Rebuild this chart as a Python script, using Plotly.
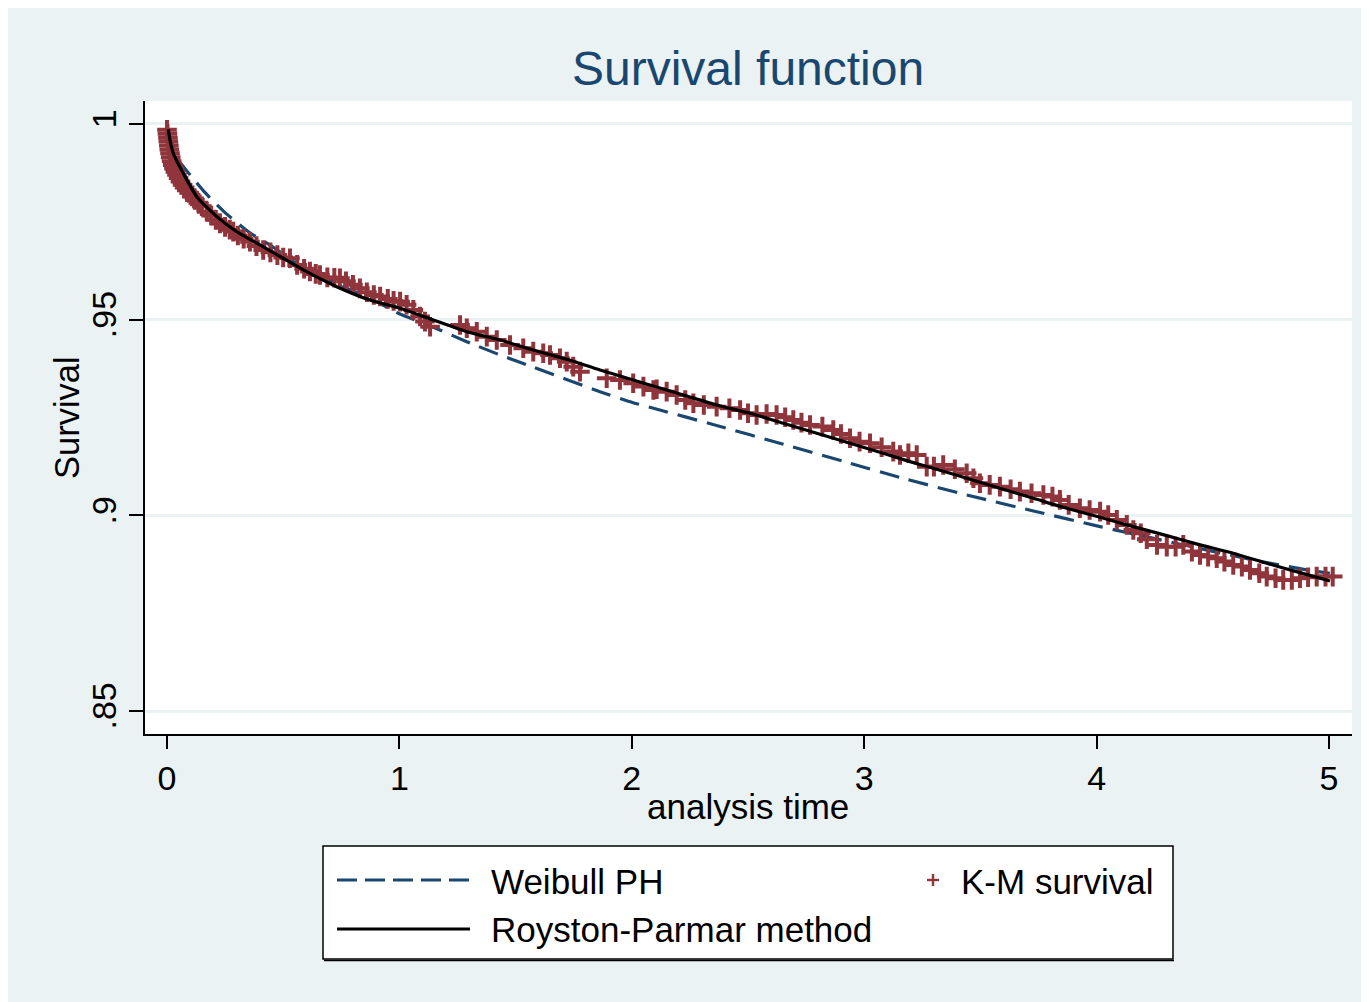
import plotly.graph_objects as go

# ---------------- data ----------------
weibull_t = [0.005, 0.049, 0.10, 0.156, 0.245, 0.350, 0.450, 0.544, 0.63, 0.888, 0.995,
             1.146, 1.290, 1.433, 1.576, 1.863, 2.006, 2.078, 2.365, 2.652, 2.939, 3.154,
             3.441, 3.728, 4.015, 4.144, 4.330, 4.660, 4.904, 5.004]
weibull_s = [0.9982, 0.9908, 0.98697, 0.98296, 0.97759, 0.97248, 0.96883, 0.96482, 0.96186,
             0.95503, 0.95163, 0.94806, 0.94438, 0.94098, 0.93784, 0.93160, 0.92879, 0.92760,
             0.92297, 0.91816, 0.91331, 0.90968, 0.90521, 0.90112, 0.89711, 0.89543, 0.89300,
             0.88878, 0.88605, 0.88520]

rp_t = [0.0056, 0.0125, 0.027, 0.040, 0.070, 0.128, 0.214, 0.300, 0.400, 0.500, 0.601, 0.730,
        0.873, 1.003, 1.146, 1.290, 1.433, 1.576, 1.720, 1.863, 2.006, 2.222, 2.365, 2.509,
        2.652, 2.796, 2.939, 3.082, 3.197, 3.297, 3.441, 3.584, 3.728, 3.871, 4.015, 4.158,
        4.302, 4.445, 4.588, 4.732, 4.875, 5.004]
rp_s = [0.99865, 0.99591, 0.99251, 0.99080, 0.98740, 0.98143, 0.97632, 0.97248, 0.96909,
        0.96569, 0.96226, 0.95843, 0.95503, 0.95291, 0.94992, 0.94693, 0.94481, 0.94226,
        0.93988, 0.93715, 0.93459, 0.93076, 0.92821, 0.92608, 0.92353, 0.92098, 0.91842,
        0.91587, 0.91372, 0.91203, 0.90948, 0.90692, 0.90437, 0.90181, 0.89951, 0.89711,
        0.89481, 0.89244, 0.89032, 0.88776, 0.88536, 0.88324]

km_t = [0.000, 0.002, 0.004, 0.006, 0.008, 0.010, 0.013, 0.016, 0.020, 0.025, 0.030, 0.036,
        0.043, 0.050, 0.058, 0.067, 0.076, 0.085, 0.095, 0.107, 0.120, 0.135, 0.150, 0.171,
        0.190, 0.210, 0.228, 0.250, 0.270, 0.285, 0.305, 0.330, 0.357, 0.385, 0.414, 0.445,
        0.475, 0.500, 0.529, 0.560, 0.590, 0.615, 0.640, 0.658, 0.690, 0.720, 0.744, 0.770,
        0.800, 0.830, 0.860, 0.890, 0.917, 0.950, 0.975, 1.003, 1.031, 1.060, 1.089, 1.110,
        1.132, 1.261, 1.290, 1.333, 1.376, 1.419, 1.476, 1.533, 1.576, 1.619, 1.648, 1.691,
        1.720, 1.748, 1.777, 1.892, 1.949, 2.006, 2.050, 2.093, 2.107, 2.150, 2.193, 2.230,
        2.265, 2.310, 2.365, 2.420, 2.466, 2.500, 2.537, 2.580, 2.623, 2.660, 2.695, 2.730,
        2.767, 2.820, 2.867, 2.900, 2.939, 2.980, 3.025, 3.075, 3.125, 3.154, 3.190, 3.226,
        3.269, 3.300, 3.340, 3.390, 3.441, 3.470, 3.498, 3.540, 3.584, 3.630, 3.670, 3.720,
        3.771, 3.810, 3.842, 3.880, 3.928, 3.970, 4.015, 4.050, 4.087, 4.130, 4.158, 4.190,
        4.216, 4.260, 4.302, 4.340, 4.373, 4.410, 4.445, 4.480, 4.517, 4.550, 4.588, 4.625,
        4.660, 4.700, 4.732, 4.770, 4.803, 4.840, 4.875, 4.910, 4.947, 4.985, 5.016]
km_s = [0.9985, 0.9975, 0.9965, 0.9955, 0.9945, 0.9935, 0.9925, 0.9915, 0.9905, 0.9895,
        0.9886, 0.9878, 0.9870, 0.9862, 0.9853, 0.9845, 0.9838, 0.9831, 0.9824, 0.9815,
        0.9806, 0.9799, 0.9790, 0.9776, 0.9766, 0.9755, 0.9746, 0.9737, 0.9730, 0.9725,
        0.9715, 0.9707, 0.9699, 0.9688, 0.9678, 0.9672, 0.9665, 0.9659, 0.9657, 0.9640,
        0.9630, 0.9623, 0.9617, 0.9614, 0.9608, 0.9607, 0.9606, 0.9598, 0.9589, 0.9580,
        0.9570, 0.9563, 0.9559, 0.9553, 0.9548, 0.9546, 0.9538, 0.9525, 0.9508, 0.9495,
        0.9482, 0.94865, 0.94780, 0.94693, 0.94566, 0.94481, 0.94354, 0.94269, 0.94182,
        0.94141, 0.94098, 0.94014, 0.93927, 0.93799, 0.93671, 0.93503, 0.93459, 0.93375,
        0.93289, 0.93204, 0.93220, 0.93161, 0.93076, 0.92948, 0.92864, 0.92821, 0.92777,
        0.92736, 0.92693, 0.92608, 0.92565, 0.92591, 0.92565, 0.92506, 0.92437, 0.92368,
        0.92310, 0.92267, 0.92182, 0.92080, 0.91970, 0.91883, 0.91842, 0.91740, 0.91628,
        0.91543, 0.91587, 0.91543, 0.91244, 0.91244, 0.91288, 0.91178, 0.91075, 0.90948,
        0.90820, 0.90777, 0.90733, 0.90667, 0.90606, 0.90565, 0.90521, 0.90478, 0.90394,
        0.90266, 0.90181, 0.90138, 0.90094, 0.90010, 0.89883, 0.89755, 0.89627, 0.89543,
        0.89390, 0.89244, 0.89200, 0.89200, 0.89244, 0.89073, 0.88988, 0.88945, 0.88904,
        0.88817, 0.88733, 0.88690, 0.88605, 0.88521, 0.88434, 0.88393, 0.88350, 0.88350,
        0.88393, 0.88418, 0.88434, 0.88434, 0.88434]

x_ticks = [0, 1, 2, 3, 4, 5]
x_tick_labels = ["0", "1", "2", "3", "4", "5"]
y_ticks = [0.85, 0.9, 0.95, 1.0]
y_tick_labels = [".85", ".9", ".95", "1"]

series_names = ["Weibull PH", "K-M survival", "Royston-Parmar method"]

# ---------------- style ----------------
BG = "#EAF2F3"
NAVY = "#1A476F"
MAROON = "#90353B"
FONT = "Liberation Sans, Arial, sans-serif"

# the page body has an 8px margin, so the figure is 8px smaller than the window
OFF = 8
W, H = 1369 - OFF, 1002 - OFF
PL, PR, PT, PB = 145, 1352, 101, 734  # plot area in window pixels


def px_x(p):
    return (p - PL) / (PR - PL)


def px_y(p):
    return (PB - p) / (PB - PT)


fig = go.Figure()

fig.add_trace(go.Scatter(x=weibull_t, y=weibull_s, mode="lines", name=series_names[0],
                         line=dict(color=NAVY, width=3.2, dash="20px,10px", shape="spline",
                                   smoothing=0.6),
                         showlegend=False))
fig.add_trace(go.Scatter(x=km_t, y=km_s, mode="markers", name=series_names[1],
                         marker=dict(symbol="cross-thin", size=14, color=MAROON,
                                     line=dict(color=MAROON, width=4)),
                         showlegend=False))
fig.add_trace(go.Scatter(x=rp_t, y=rp_s, mode="lines", name=series_names[2],
                         line=dict(color="black", width=3.2, shape="spline", smoothing=0.6),
                         showlegend=False))

shapes = []
annotations = []

# legend box (with a thin shadow line along the bottom)
shapes.append(dict(type="line", xref="paper", yref="paper",
                   x0=px_x(324), x1=px_x(1174), y0=px_y(960.5), y1=px_y(960.5),
                   line=dict(color="black", width=1.5)))
shapes.append(dict(type="rect", xref="paper", yref="paper",
                   x0=px_x(323), x1=px_x(1173), y0=px_y(959), y1=px_y(846),
                   fillcolor="white", line=dict(color="black", width=1.5)))
# legend samples
shapes.append(dict(type="line", xref="paper", yref="paper",
                   x0=px_x(337), x1=px_x(470), y0=px_y(880), y1=px_y(880),
                   line=dict(color=NAVY, width=3.2, dash="20px,8px")))
shapes.append(dict(type="line", xref="paper", yref="paper",
                   x0=px_x(337), x1=px_x(470), y0=px_y(929), y1=px_y(929),
                   line=dict(color="black", width=3.2)))
shapes.append(dict(type="line", xref="paper", yref="paper",
                   x0=px_x(927), x1=px_x(939), y0=px_y(880), y1=px_y(880),
                   line=dict(color=MAROON, width=2.4)))
shapes.append(dict(type="line", xref="paper", yref="paper",
                   x0=px_x(933), x1=px_x(933), y0=px_y(874), y1=px_y(886),
                   line=dict(color=MAROON, width=2.4)))

leg_font = dict(family=FONT, size=35, color="black")
annotations.append(dict(text=series_names[0], xref="paper", yref="paper",
                        x=px_x(489), y=px_y(881), xanchor="left", yanchor="middle",
                        showarrow=False, font=leg_font))
annotations.append(dict(text=series_names[1], xref="paper", yref="paper",
                        x=px_x(959), y=px_y(881), xanchor="left", yanchor="middle",
                        showarrow=False, font=leg_font))
annotations.append(dict(text=series_names[2], xref="paper", yref="paper",
                        x=px_x(489), y=px_y(929), xanchor="left", yanchor="middle",
                        showarrow=False, font=leg_font))

# title and axis titles
annotations.append(dict(text="Survival function", xref="paper", yref="paper",
                        x=px_x(748), y=px_y(68), xanchor="center", yanchor="middle",
                        showarrow=False, font=dict(family=FONT, size=48, color=NAVY)))
annotations.append(dict(text="analysis time", xref="paper", yref="paper",
                        x=px_x(748), y=px_y(807), xanchor="center", yanchor="middle",
                        showarrow=False, font=dict(family=FONT, size=35, color="black")))
annotations.append(dict(text="Survival", xref="paper", yref="paper",
                        x=px_x(67), y=px_y(418), xanchor="center", yanchor="middle",
                        textangle=-90, showarrow=False,
                        font=dict(family=FONT, size=34.5, color="black")))

x_range = [-0.09466, 5.09897]
y_range = [0.844122, 1.005876]

fig.update_layout(
    width=W, height=H,
    margin=dict(l=PL - OFF, r=1369 - PR, t=PT - OFF, b=1002 - PB, pad=0),
    paper_bgcolor=BG, plot_bgcolor="white",
    showlegend=False,
    shapes=shapes, annotations=annotations,
    font=dict(family=FONT, color="black"),
    xaxis=dict(range=x_range, tickvals=x_ticks, ticktext=x_tick_labels,
               showgrid=False, zeroline=False, showline=True, linecolor="black",
               linewidth=1.5, ticks="outside", ticklen=13, tickwidth=1.5,
               tickcolor="black", tickfont=dict(family=FONT, size=34, color="black")),
    yaxis=dict(range=y_range, tickvals=y_ticks, ticktext=y_tick_labels,
               showgrid=True, gridcolor=BG, gridwidth=3, zeroline=False,
               showline=True, linecolor="black", linewidth=1.5, ticks="outside",
               ticklen=14, tickwidth=1.5, tickcolor="black", tickangle=-90,
               tickfont=dict(family=FONT, size=34, color="black")),
)

fig.write_html("out.html")
